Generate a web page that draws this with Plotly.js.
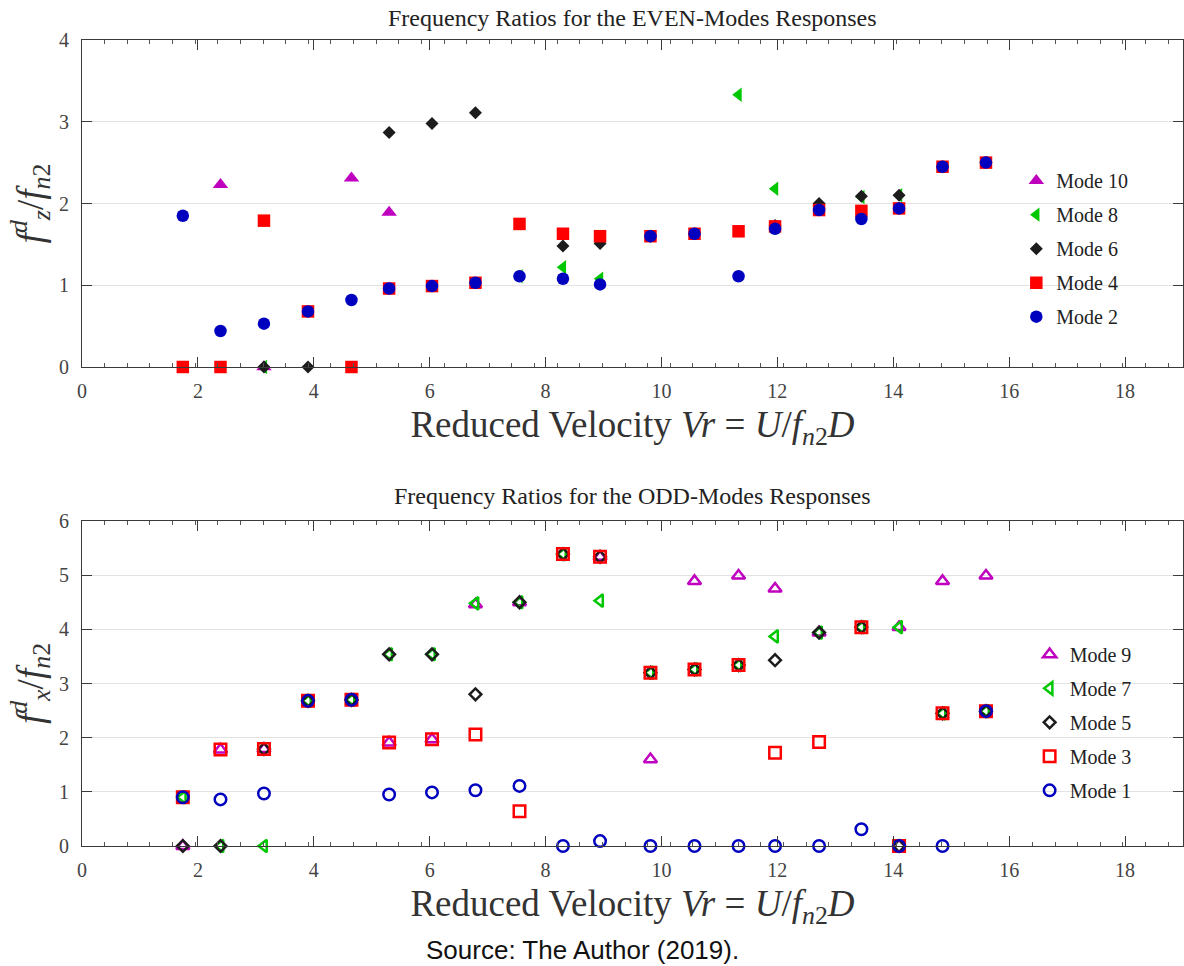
<!DOCTYPE html>
<html>
<head>
<meta charset="utf-8">
<script src="https://cdn.plot.ly/plotly-3.0.1.min.js"></script>
<style>
  html, body { margin: 0; padding: 0; background: #fff; }
  #chart { width: 1184px; height: 966px; }
</style>
</head>
<body>
<div id="chart"></div>
<script>
// Reduced velocity stations (Vr = U / f_n2 D)
const vr = [1.74, 2.39, 3.14, 3.90, 4.65, 5.30, 6.04, 6.79, 7.55, 8.30,
            8.94, 9.81, 10.57, 11.33, 11.96, 12.72, 13.45, 14.10, 14.85, 15.60];

// EVEN modes: dominant frequency ratio f_z^d / f_n2 (null = no peak)
const mode2 = [1.85, 0.44, 0.53, 0.68, 0.82, 0.96, 0.99, 1.03, 1.11, 1.08,
               1.01, 1.60, 1.63, 1.11, 1.69, 1.92, 1.81, 1.94, 2.45, 2.50];
const mode4 = [0, 0, 1.79, 0.68, 0, 0.96, 0.99, 1.03, 1.75, 1.63,
               1.60, 1.60, 1.63, 1.66, 1.72, 1.92, 1.91, 1.94, 2.45, 2.50];
const mode6 = [null, null, 0, 0, null, 2.87, 2.98, 3.11, null, 1.48,
               1.51, 1.60, 1.63, null, 1.73, 2.00, 2.09, 2.10, 2.45, 2.50];
const mode8 = [null, null, 0, null, null, null, null, null, 1.11, 1.22,
               1.08, null, null, 3.33, 2.18, null, 2.08, 2.10, null, null];
const mode10 = [null, 2.23, 0, null, 2.31, 1.89, null, null, null, null,
                null, null, null, null, null, null, null, null, null, null];

// ODD modes: dominant frequency ratio f_x^d / f_n2
const mode1 = [0.90, 0.86, 0.97, 2.68, 2.70, 0.95, 0.99, 1.03, 1.11, 0,
               0.09, 0, 0, 0, 0, 0, 0.31, 0, 0, 2.49];
const mode3 = [0.90, 1.78, 1.79, 2.68, 2.70, 1.91, 1.97, 2.06, 0.64, 5.39,
               5.34, 3.20, 3.26, 3.34, 1.72, 1.92, 4.04, 0, 2.45, 2.49];
const mode5 = [0, 0, 1.79, 2.68, 2.70, 3.54, 3.54, 2.80, 4.50, 5.39,
               5.34, 3.20, 3.26, 3.34, 3.43, 3.94, 4.04, 0, 2.45, 2.49];
const mode7 = [0.90, 0, 0, 2.68, 2.70, 3.54, 3.54, 4.48, 4.50, 5.39,
               4.53, 3.20, 3.26, 3.34, 3.87, 3.94, 4.04, 4.04, 2.45, 2.49];
const mode9 = [0, 1.78, 1.79, null, null, 1.91, 1.97, 4.46, 4.50, null,
               5.34, 1.60, 4.89, 4.99, 4.75, 3.94, null, 4.04, 4.89, 4.99];

const evenTitle = 'Frequency Ratios for the EVEN-Modes Responses';
const oddTitle = 'Frequency Ratios for the ODD-Modes Responses';
const sourceNote = 'Source: The Author (2019).';

const C = {
  magenta: '#bf00bf',
  green: '#00c800',
  black: '#1c1c1c',
  red: '#ff0000',
  blue: '#0000bf'
};

const SERIF = '"Liberation Serif", "DejaVu Serif", serif';

function filled(name, y, symbol, color, size, idx) {
  return {
    type: 'scatter', mode: 'markers', name: name, x: vr, y: y,
    xaxis: 'x', yaxis: 'y', legend: 'legend', legendgroup: 'e' + idx,
    cliponaxis: false,
    marker: { symbol: symbol, color: color, size: size, line: { width: 0 } }
  };
}
function open(name, y, symbol, color, size, idx) {
  return {
    type: 'scatter', mode: 'markers', name: name, x: vr, y: y,
    xaxis: 'x2', yaxis: 'y2', legend: 'legend2', legendgroup: 'o' + idx,
    cliponaxis: false,
    marker: { symbol: symbol + '-open', color: color, size: size,
              line: { width: 2.5, color: color } }
  };
}

const traces = [
  filled('Mode 10', mode10, 'triangle-up', C.magenta, 13.5, 1),
  filled('Mode 8', mode8, 'triangle-left', C.green, 12.5, 2),
  filled('Mode 6', mode6, 'diamond', C.black, 10, 3),
  filled('Mode 4', mode4, 'square', C.red, 12.5, 4),
  filled('Mode 2', mode2, 'circle', C.blue, 12.5, 5),
  open('Mode 9', mode9, 'triangle-up', C.magenta, 11.5, 1),
  open('Mode 7', mode7, 'triangle-left', C.green, 11, 2),
  open('Mode 5', mode5, 'diamond', C.black, 9, 3),
  open('Mode 3', mode3, 'square', C.red, 11.5, 4),
  open('Mode 1', mode1, 'circle', C.blue, 11.5, 5)
];

const xTitle = 'Reduced Velocity <i>Vr</i> = <i>U</i>/<i>f</i><sub><i>n</i>2</sub><i>D</i>';

function xAxis(anchor) {
  return {
    anchor: anchor, range: [0, 19], dtick: 2, tick0: 0,
    showline: true, mirror: 'ticks', linecolor: '#3a3a3a', linewidth: 1,
    ticks: 'inside', ticklen: 10, tickwidth: 1, tickcolor: '#3a3a3a',
    minor: { ticks: 'inside', ticklen: 4, tick0: 0, dtick: 0.3905, tickcolor: '#555' },
    showgrid: false, zeroline: false,
    tickfont: { family: SERIF, size: 20, color: '#444' },
    ticklabelstandoff: 6,
    title: { text: xTitle, font: { family: SERIF, size: 37, color: '#333' }, standoff: 10 }
  };
}
function yAxis(anchor, domain, range, title) {
  return {
    anchor: anchor, domain: domain, range: range, dtick: 1,
    showline: true, mirror: 'ticks', linecolor: '#3a3a3a', linewidth: 1,
    ticks: 'inside', ticklen: 10, tickwidth: 1, tickcolor: '#3a3a3a',
    showgrid: true, gridcolor: '#e2e2e2', gridwidth: 1, zeroline: false,
    tickfont: { family: SERIF, size: 20, color: '#444' },
    ticklabelstandoff: 8,
    title: { text: title, font: { family: SERIF, size: 37, color: '#333' }, standoff: 4 }
  };
}

const legendBase = {
  bgcolor: 'rgba(0,0,0,0)', borderwidth: 0,
  font: { family: SERIF, size: 20, color: '#222' },
  traceorder: 'grouped', tracegroupgap: 5,
  xanchor: 'left', yanchor: 'top'
};

const layout = {
  width: 1184, height: 966,
  margin: { l: 82, r: 1, t: 40, b: 120 },
  paper_bgcolor: '#fff', plot_bgcolor: '#fff',
  showlegend: true,
  xaxis: xAxis('y'),
  yaxis: yAxis('x', [0.5943, 1], [0, 4],
    '<i>f</i><sup><i>d</i></sup><sub><i>z</i></sub>/<i>f</i><sub><i>n</i>2</sub>'),
  xaxis2: xAxis('y2'),
  yaxis2: yAxis('x2', [0, 0.4032], [0, 6],
    '<i>f</i><sup><i>d</i></sup><sub><i>x</i></sub>/<i>f</i><sub><i>n</i>2</sub>'),
  legend: Object.assign({}, legendBase, { x: 0.8486, y: 0.8497 }),
  legend2: Object.assign({}, legendBase, { x: 0.8607, y: 0.262 }),
  annotations: [
    { text: evenTitle, xref: 'paper', yref: 'paper', x: 0.5, y: 1.0, yshift: 22,
      showarrow: false, xanchor: 'center', yanchor: 'middle',
      font: { family: SERIF, size: 24, color: '#222' } },
    { text: oddTitle, xref: 'paper', yref: 'paper', x: 0.5, y: 0.4032, yshift: 25,
      showarrow: false, xanchor: 'center', yanchor: 'middle',
      font: { family: SERIF, size: 24, color: '#222' } },
    { text: sourceNote, xref: 'paper', yref: 'paper', x: 0.4544, y: 0, yshift: -104,
      showarrow: false, xanchor: 'center', yanchor: 'middle',
      font: { family: '"Liberation Sans", Arial, sans-serif', size: 26, color: '#111' } }
  ]
};

Plotly.newPlot('chart', traces, layout, { displayModeBar: false, responsive: false });
</script>
</body>
</html>
